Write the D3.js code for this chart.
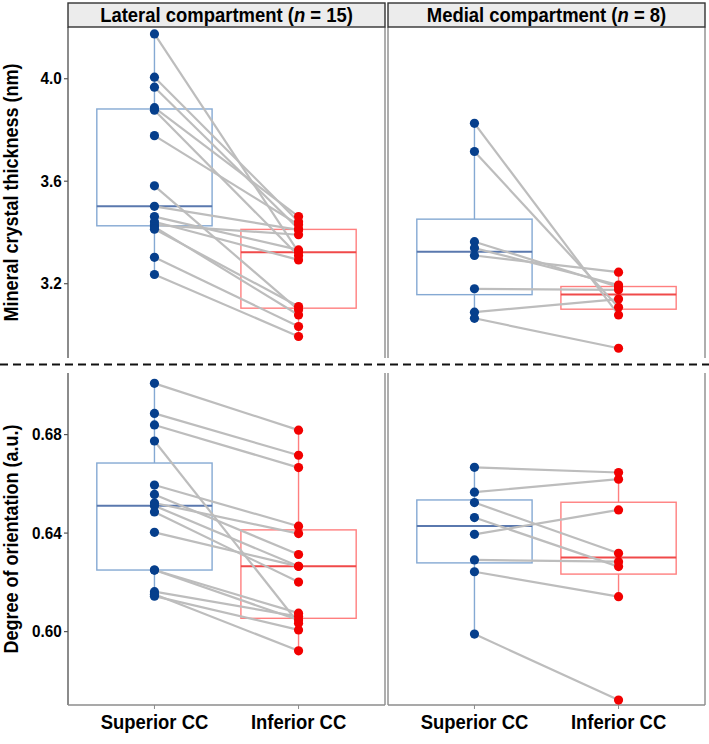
<!DOCTYPE html>
<html>
<head>
<meta charset="utf-8">
<script src="https://cdn.jsdelivr.net/npm/d3@7"></script>
<style>
  html, body { margin: 0; padding: 0; background: #fff; }
  svg { display: block; font-family: "Liberation Sans", Arial, sans-serif; }
</style>
</head>
<body>
<svg id="chart" width="709" height="744"></svg>
<script>
// ---------------- data ----------------
const compartments = ["Lateral compartment", "Medial compartment"];
const nValues = [15, 8];
const groups = ["Superior CC", "Inferior CC"];

const latThickSup = [4.173, 4.004, 3.965, 3.885, 3.875, 3.776, 3.580, 3.500, 3.460, 3.440, 3.428, 3.420, 3.411, 3.301, 3.234];
const latThickInf = [3.321, 3.440, 3.412, 3.460, 3.307, 3.428, 3.096, 3.408, 3.330, 3.291, 3.389, 3.076, 3.109, 3.031, 2.992];
const medThickSup = [3.824, 3.714, 3.362, 3.337, 3.308, 3.178, 3.087, 3.063];
const medThickInf = [3.076, 3.106, 3.185, 3.193, 3.243, 3.174, 3.138, 2.946];

const latOriSup = [0.7006, 0.6884, 0.6837, 0.6772, 0.6593, 0.6555, 0.6520, 0.6509, 0.6484, 0.6401, 0.6248, 0.6248, 0.6160, 0.6150, 0.6142];
const latOriInf = [0.6816, 0.6714, 0.6664, 0.6032, 0.6426, 0.6311, 0.6396, 0.6263, 0.6199, 0.6263, 0.6073, 0.6045, 0.6059, 0.5920, 0.6005];
const medOriSup = [0.6665, 0.6564, 0.6522, 0.6461, 0.6393, 0.6289, 0.6241, 0.5988];
const medOriInf = [0.6644, 0.6617, 0.6316, 0.6262, 0.6492, 0.6282, 0.6140, 0.5720];

const thickTicks = [3.2, 3.6, 4.0];
const oriTicks = [0.60, 0.64, 0.68];
const yTitles = ["Mineral crystal thickness (nm)", "Degree of orientation (a.u.)"];

// ---------------- layout ----------------
const svg = d3.select("#chart");
const FONT = '"Liberation Sans", Arial, sans-serif';
const SX = 0.9; // horizontal condensing of the text
const panelX = [[68, 385], [388, 705]];
const rows = [
  { top: 27, bottom: 358, domain: [2.908, 4.200], ticks: thickTicks, fmt: d3.format(".1f"),
    data: [[latThickSup, latThickInf], [medThickSup, medThickInf]], title: yTitles[0], bottomBorder: false },
  { top: 373, bottom: 705, domain: [0.570, 0.7048], ticks: oriTicks, fmt: d3.format(".2f"),
    data: [[latOriSup, latOriInf], [medOriSup, medOriInf]], title: yTitles[1], bottomBorder: true }
];

const ptColor = ["#063f8c", "#f20000"];
const boxColor = ["#85a9d3", "#ff7f7f"];
const medColor = ["#5a78ae", "#f04a4a"];
const lineColor = "#bdbdbd";

function boxStats(v) {
  const s = v.slice().sort(d3.ascending);
  const q1 = d3.quantile(s, 0.25), med = d3.quantile(s, 0.5), q3 = d3.quantile(s, 0.75);
  const iqr = q3 - q1;
  const lo = d3.min(s.filter(d => d >= q1 - 1.5 * iqr));
  const hi = d3.max(s.filter(d => d <= q3 + 1.5 * iqr));
  return { q1, med, q3, lo, hi };
}

function label(parent, x, y, size, anchor) {
  return parent.append("text")
    .attr("transform", `translate(${x},${y}) scale(${SX},1)`)
    .attr("text-anchor", anchor || "middle")
    .attr("font-family", FONT).attr("font-weight", "bold")
    .attr("font-size", size).attr("fill", "#000");
}

rows.forEach((row, ri) => {
  const y = d3.scaleLinear().domain(row.domain).range([row.bottom, row.top]);
  panelX.forEach((px, pi) => {
    const xs = d3.scaleLinear().domain([0.4, 2.6]).range(px);
    const xpos = g => xs(groups.indexOf(g) + 1);
    const bw = xs(1.4) - xs(1);
    const g = svg.append("g");

    // panel borders
    g.append("line").attr("x1", px[0]).attr("x2", px[0]).attr("y1", row.top).attr("y2", row.bottom)
      .attr("stroke", pi === 0 ? "#5a5a5a" : "#8c8c8c").attr("stroke-width", 1.4);
    g.append("line").attr("x1", px[1]).attr("x2", px[1]).attr("y1", row.top).attr("y2", row.bottom)
      .attr("stroke", "#8c8c8c").attr("stroke-width", 1.4);
    if (row.bottomBorder) {
      g.append("line").attr("x1", px[0]).attr("x2", px[1]).attr("y1", row.bottom).attr("y2", row.bottom)
        .attr("stroke", "#8c8c8c").attr("stroke-width", 1.4);
      groups.forEach(gr => {
        g.append("line").attr("x1", xpos(gr)).attr("x2", xpos(gr)).attr("y1", row.bottom).attr("y2", row.bottom + 4)
          .attr("stroke", "#8c8c8c").attr("stroke-width", 1);
        label(g, xpos(gr), row.bottom + 24, 20.5).text(gr);
      });
    }

    // y axis on the left panels
    if (pi === 0) {
      const ax = d3.axisLeft(y).tickValues(row.ticks).tickFormat(row.fmt).tickSize(4).tickPadding(3);
      const axg = g.append("g").attr("transform", `translate(${px[0]},0)`).call(ax);
      axg.select(".domain").remove();
      axg.selectAll(".tick line").attr("stroke", "#555").attr("stroke-width", 1.2);
      axg.selectAll(".tick text").attr("font-family", FONT).attr("font-weight", "bold")
        .attr("font-size", 17).attr("fill", "#000")
        .attr("transform", `scale(${SX},1)`);
      g.append("text")
        .attr("transform", `translate(18,${(row.top + row.bottom) / 2}) rotate(-90) scale(${SX},1)`)
        .attr("text-anchor", "middle").attr("font-family", FONT).attr("font-weight", "bold")
        .attr("font-size", 20).attr("fill", "#000").text(row.title);
    }

    const sets = row.data[pi];
    // boxes
    sets.forEach((vals, gi) => {
      const st = boxStats(vals);
      const cx = xpos(groups[gi]);
      g.append("line").attr("x1", cx).attr("x2", cx).attr("y1", y(st.hi)).attr("y2", y(st.q3))
        .attr("stroke", boxColor[gi]).attr("stroke-width", 1.4);
      g.append("line").attr("x1", cx).attr("x2", cx).attr("y1", y(st.q1)).attr("y2", y(st.lo))
        .attr("stroke", boxColor[gi]).attr("stroke-width", 1.4);
      g.append("rect").attr("x", cx - bw).attr("width", 2 * bw)
        .attr("y", y(st.q3)).attr("height", y(st.q1) - y(st.q3))
        .attr("fill", "none").attr("stroke", boxColor[gi]).attr("stroke-width", 1.4);
      g.append("line").attr("x1", cx - bw).attr("x2", cx + bw).attr("y1", y(st.med)).attr("y2", y(st.med))
        .attr("stroke", medColor[gi]).attr("stroke-width", 2);
    });
    // paired lines
    const pairs = d3.zip(sets[0], sets[1]);
    g.selectAll("line.pair").data(pairs).join("line").attr("class", "pair")
      .attr("x1", xpos(groups[0])).attr("x2", xpos(groups[1]))
      .attr("y1", d => y(d[0])).attr("y2", d => y(d[1]))
      .attr("stroke", lineColor).attr("stroke-width", 2.2);
    // points
    sets.forEach((vals, gi) => {
      g.selectAll(null).data(vals).join("circle")
        .attr("cx", xpos(groups[gi])).attr("cy", d => y(d)).attr("r", 4.6)
        .attr("fill", ptColor[gi]);
    });

    // strip on top row
    if (ri === 0) {
      g.append("rect").attr("x", px[0]).attr("y", 3).attr("width", px[1] - px[0]).attr("height", row.top - 3)
        .attr("fill", "#ececec").attr("stroke", "#333").attr("stroke-width", 1.4);
      const t = label(g, (px[0] + px[1]) / 2, 22, 20.5);
      t.append("tspan").text(compartments[pi] + " (");
      t.append("tspan").attr("font-style", "italic").text("n");
      t.append("tspan").text(" = " + nValues[pi] + ")");
    }
  });
});

// dashed separator
svg.append("line").attr("x1", 0).attr("x2", 709).attr("y1", 364.5).attr("y2", 364.5)
  .attr("stroke", "#111").attr("stroke-width", 2).attr("stroke-dasharray", "8,5");
</script>
</body>
</html>
